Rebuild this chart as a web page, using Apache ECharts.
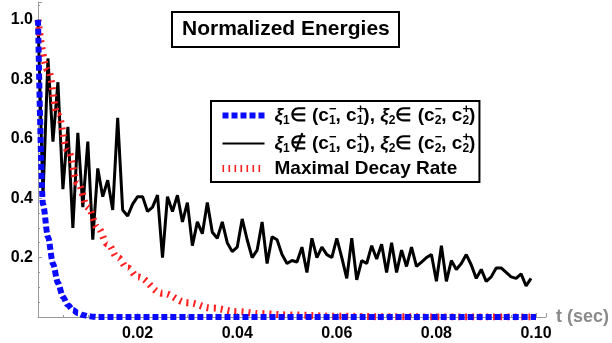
<!DOCTYPE html>
<html><head><meta charset="utf-8">
<script src="https://cdn.jsdelivr.net/npm/echarts@6/dist/echarts.min.js"></script>
<style>html,body{margin:0;padding:0;background:#fff}#c{width:612px;height:343px}</style>
</head><body><div id="c"></div>
<script>
const titleText = 'Normalized Energies';
const axisName = 't (sec)';
const seriesNames = ['inside', 'outside', 'maxdecay'];
const legendLabels = [
  '{g|}{x|ξ}{s|1}{t|∈ (c}{p|−}{s|1}{t|, c}{p|+}{s|1}{t|), }{x|ξ}{s|2}{t|∈ (c}{p|−}{s|2}{t|, c}{p|+}{s|2}{t|)}',
  '{g|}{x|ξ}{s|1}{t|∉ (c}{p|−}{s|1}{t|, c}{p|+}{s|1}{t|), }{x|ξ}{s|2}{t|∈ (c}{p|−}{s|2}{t|, c}{p|+}{s|2}{t|)}',
  '{g|}{t|Maximal Decay Rate}'
];
// blue: xi1 in interval
const blueT = [0, 0.001, 0.002, 0.003, 0.004, 0.005, 0.006, 0.007, 0.008, 0.009, 0.010, 0.011, 0.012, 0.100];
const blueV = [1.0, 0.38, 0.27, 0.18, 0.115, 0.068, 0.04, 0.024, 0.013, 0.007, 0.003, 0.001, 0, 0];
// black: xi1 not in interval, sampled every 1 ms
const blackStep = 0.001;
const blackV = [
  1.0, 0.405, 0.87, 0.59, 0.79, 0.43, 0.64, 0.30, 0.62, 0.37,
  0.59, 0.26, 0.50, 0.405, 0.46, 0.36, 0.67, 0.36, 0.34, 0.38,
  0.405, 0.405, 0.355, 0.37, 0.41, 0.20, 0.405, 0.355, 0.41, 0.32,
  0.385, 0.24, 0.32, 0.28, 0.385, 0.285, 0.265, 0.32, 0.25, 0.22,
  0.235, 0.33, 0.26, 0.20, 0.225, 0.32, 0.18, 0.27, 0.26, 0.21,
  0.18, 0.19, 0.185, 0.235, 0.15, 0.265, 0.20, 0.235, 0.21, 0.20,
  0.265, 0.20, 0.13, 0.265, 0.125, 0.19, 0.18, 0.24, 0.195, 0.245,
  0.15, 0.25, 0.15, 0.225, 0.17, 0.235, 0.17, 0.185, 0.20, 0.21,
  0.12, 0.24, 0.12, 0.19, 0.16, 0.18, 0.21, 0.175, 0.13, 0.16,
  0.12, 0.135, 0.165, 0.165, 0.15, 0.135, 0.13, 0.145, 0.105, 0.13
];
// red: maximal decay rate
const redT = [0, 0.002, 0.004, 0.006, 0.008, 0.010, 0.012, 0.014, 0.016, 0.018, 0.020, 0.025, 0.030, 0.035, 0.040, 0.045, 0.050, 0.060, 0.070, 0.080, 0.090, 0.100];
const redV = [1.0, 0.83, 0.68, 0.56, 0.45, 0.37, 0.30, 0.245, 0.20, 0.165, 0.135, 0.08, 0.048, 0.03, 0.018, 0.011, 0.007, 0.0025, 0.001, 0.0003, 0.0001, 0];

const F = '"Liberation Sans", Arial, sans-serif';
const pair = (ts, vs) => ts.map((t, i) => [t, vs[i]]);
const blackData = blackV.map((v, i) => [i * blackStep, v]);

const blueStyle = { color: '#0a0aff', width: 6, type: [6, 3] };
const blackStyle = { color: '#000', width: 3, type: 'solid' };
const redStyle = { color: '#ff2020', width: 7, type: [2, 5] };
const hidden = { opacity: 0 };

const chart = echarts.init(document.getElementById('c'), null, { renderer: 'canvas' });
chart.setOption({
  animation: false,
  backgroundColor: '#fff',
  title: {
    text: titleText, left: 172, top: 12,
    borderWidth: 2, borderColor: '#000', padding: [7, 10],
    textStyle: { fontFamily: F, fontSize: 21, fontWeight: 'bold', color: '#000' }
  },
  legend: {
    orient: 'vertical', left: 211, top: 101,
    borderWidth: 2, borderColor: '#000', padding: [2, 4, 4, 8],
    itemWidth: 42, itemHeight: 14, itemGap: 3,
    data: [
      { name: seriesNames[0], lineStyle: blueStyle, itemStyle: hidden },
      { name: seriesNames[1], lineStyle: { color: '#000', width: 2, type: 'solid' }, itemStyle: hidden },
      { name: seriesNames[2], lineStyle: { color: '#ff2020', width: 7, type: [1.6, 4.4] }, itemStyle: hidden }
    ],
    formatter: n => legendLabels[seriesNames.indexOf(n)],
    textStyle: {
      fontFamily: F, fontSize: 19, fontWeight: 'bold', color: '#000',
      rich: {
        g: { width: 5, lineHeight: 25 },
        t: { fontFamily: F, fontSize: 19, fontWeight: 'bold', color: '#000', lineHeight: 25 },
        x: { fontFamily: F, fontSize: 19, fontWeight: 'bold', fontStyle: 'italic', color: '#000', lineHeight: 25 },
        s: { fontFamily: F, fontSize: 12, fontWeight: 'bold', color: '#000', verticalAlign: 'bottom', lineHeight: 13, padding: [0, 0, 1, 0] },
        p: { fontFamily: F, fontSize: 13, fontWeight: 'bold', color: '#000', verticalAlign: 'top', lineHeight: 12, width: 0 }
      }
    }
  },
  grid: { left: 38, right: 66, top: 2, bottom: 26 },
  xAxis: {
    type: 'value', min: 0, max: 0.102, interval: 0.02,
    name: axisName, nameLocation: 'end', nameGap: 10,
    nameTextStyle: { fontFamily: F, fontSize: 18, fontWeight: 'bold', color: '#8a8a8a', verticalAlign: 'middle' },
    axisLine: { lineStyle: { color: '#999', width: 1 } },
    axisTick: { inside: true, length: 4, lineStyle: { color: '#999' } },
    minorTick: { show: true, splitNumber: 4, length: 2, lineStyle: { color: '#999' } },
    splitLine: { show: false },
    axisLabel: {
      showMinLabel: false, showMaxLabel: false, margin: 9,
      fontFamily: F, fontSize: 16, fontWeight: 'bold', color: '#000',
      formatter: v => v.toFixed(2)
    }
  },
  yAxis: {
    type: 'value', min: 0, max: 1.06, interval: 0.2,
    axisLine: { show: true, lineStyle: { color: '#999', width: 1 } },
    axisTick: { show: true, inside: true, length: 4, lineStyle: { color: '#999' } },
    minorTick: { show: true, splitNumber: 4, length: 2, lineStyle: { color: '#999' } },
    splitLine: { show: false },
    axisLabel: {
      showMinLabel: false, showMaxLabel: false, margin: 5,
      fontFamily: F, fontSize: 16, fontWeight: 'bold', color: '#000',
      formatter: v => v.toFixed(1)
    }
  },
  series: [
    { name: seriesNames[1], type: 'line', symbol: 'none', data: blackData, lineStyle: blackStyle, itemStyle: { color: '#000' }, z: 2 },
    { name: seriesNames[2], type: 'line', symbol: 'none', data: pair(redT, redV), smooth: 0.4, smoothMonotone: 'x', lineStyle: redStyle, itemStyle: { color: '#ff2020' }, z: 3 },
    { name: seriesNames[0], type: 'line', symbol: 'none', data: pair(blueT, blueV), smooth: 0.3, smoothMonotone: 'x', lineStyle: blueStyle, itemStyle: { color: '#0a0aff' }, z: 4 }
  ]
});
</script>
</body></html>
